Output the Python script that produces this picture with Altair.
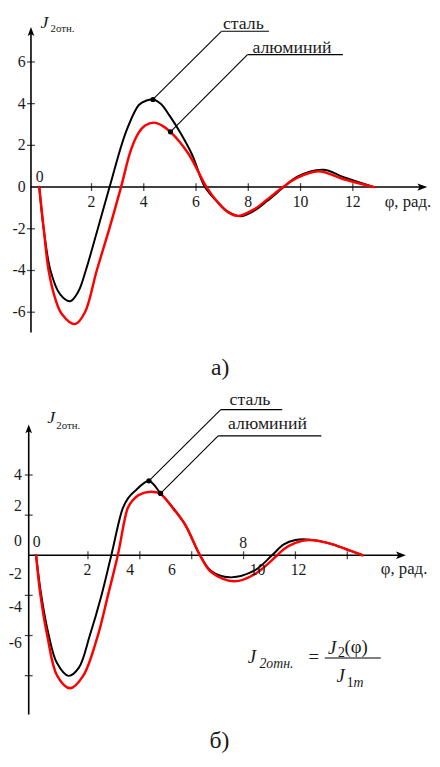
import altair as alt
import pandas as pd

FONT = "'Liberation Serif', 'Times New Roman', 'DejaVu Serif', serif"

# ---------------- panel а) : values ----------------
A_STEEL_PHI = [0, 0.17, 0.43, 0.8, 1.18, 1.5, 1.78, 2.24, 2.69, 3.32, 3.82, 4.1, 4.35, 4.65, 5.0, 5.4, 5.85,
               6.34, 6.84, 7.22, 7.7, 8.23, 8.73, 9.36, 9.86, 10.87, 11.62, 12.82]
A_STEEL_J = [0, -2, -4, -5.15, -5.47, -5.0, -4, -2, 0, 2.65, 3.95, 4.15, 4.2, 4.0, 3.4, 2.6, 1.55,
             0, -0.74, -1.18, -1.4, -1.13, -0.66, 0, 0.49, 0.83, 0.49, 0]
A_ALU_PHI = [0, 0.17, 0.36, 0.6, 0.87, 1.37, 1.75, 2.2, 2.68, 3.13, 3.5, 3.8, 4.05, 4.39, 4.7, 5.02, 5.71,
             6.4, 6.84, 7.22, 7.62, 8.23, 8.73, 9.33, 9.86, 10.68, 11.62, 12.82]
A_ALU_J = [0, -2, -4, -5.3, -6.1, -6.57, -6, -4, -2, 0, 1.75, 2.6, 2.95, 3.09, 2.95, 2.65, 1.6,
           0, -0.74, -1.2, -1.38, -1.06, -0.59, 0, 0.44, 0.76, 0.39, 0]
A_YTICKS = [-6, -4, -2, 2, 4, 6]
A_YLABELS = ["6", "4", "2", "0", "-2", "-4", "-6"]
A_YLABEL_POS = [6, 4, 2, 0, -2, -4, -6]
A_XTICKS = [2, 4, 6, 8, 10, 12]
A_XLABELS = ["2", "4", "6", "8", "10", "12"]
A_XLABEL_POS = [2, 4, 6, 8, 10, 12]
A_DOTS_PHI = [4.35, 5.02]
A_DOTS_J = [4.2, 2.65]

# ---------------- panel б) ----------------
B_STEEL_PHI = [0, 0.2, 0.49, 0.8, 1.25, 1.65, 2.07, 2.52, 2.9, 3.34, 3.55, 3.78, 4.35, 4.8, 5.3, 5.75, 6.32,
               6.74, 7.46, 8.41, 9.1, 9.55, 10.0, 10.55, 11.32, 11.96, 12.59]
B_STEEL_J = [0, -2, -4, -5.36, -6.01, -5.6, -4, -2, 0, 2.34, 2.85, 3.16, 3.7, 3.08, 2.34, 1.52, 0,
             -0.77, -1.1, -0.77, 0, 0.54, 0.76, 0.78, 0.59, 0.3, 0]
B_ALU_PHI = [0, 0.17, 0.43, 0.81, 1.31, 1.82, 2.38, 2.77, 3.15, 3.53, 3.7, 3.95, 4.43, 4.8, 5.3, 5.75, 6.32,
             6.76, 7.65, 8.41, 9.3, 9.55, 10.0, 10.5, 11.32, 11.96, 12.59]
B_ALU_J = [0, -2, -4, -6, -6.63, -6, -4, -2, 0, 2.34, 2.7, 3.0, 3.16, 3.05, 2.3, 1.52, 0,
           -0.85, -1.3, -0.96, 0, 0.3, 0.62, 0.76, 0.59, 0.3, 0]
B_YTICKS = [-6, -4, -2, 2, 4]
B_YLABELS = ["4", "2", "0", "-2", "-4", "-6"]
B_YLABEL_POS = [3.98, 2.44, 0.72, -0.96, -2.57, -4.37]
B_XTICKS = [2, 4, 6, 8, 10, 12]
B_XLABELS_BELOW = ["2", "4", "6", "10", "12"]
B_XLABELS_BELOW_POS = [1.98, 3.63, 5.24, 8.54, 10.12]
B_XLABELS_ABOVE = ["0", "8"]
B_XLABELS_ABOVE_POS = [0.02, 7.99]
B_DOTS_PHI = [4.35, 4.8]
B_DOTS_J = [3.71, 3.08]

ARROW_UP = "M0,-1L0.75,1L0,0.55L-0.75,1Z"
ARROW_RIGHT = "M1,0L-1,-0.75L-0.55,0L-1,0.75Z"


def enc(xs, ys):
    return dict(x=alt.X("x:Q", scale=xs, axis=None), y=alt.Y("y:Q", scale=ys, axis=None))


def curve(phi, j, color, width, xs, ys):
    df = pd.DataFrame({"x": phi, "y": j})
    return alt.Chart(df).mark_line(interpolate="catmull-rom", color=color, strokeWidth=width,
                                   strokeCap="round", strokeJoin="round").encode(**enc(xs, ys))


def rules(rows, xs, ys):
    df = pd.DataFrame(rows, columns=["x", "x2", "y", "y2", "w"])
    return alt.Chart(df).mark_rule(color="black").encode(
        x=alt.X("x:Q", scale=xs, axis=None), x2="x2:Q",
        y=alt.Y("y:Q", scale=ys, axis=None), y2="y2:Q",
        strokeWidth=alt.StrokeWidth("w:Q", scale=None))


def ticks(xv, yv, orient, xs, ys):
    df = pd.DataFrame({"x": xv, "y": yv})
    return alt.Chart(df).mark_tick(orient=orient, color="black", size=8, thickness=1.3).encode(**enc(xs, ys))


def points(xv, yv, shape, size, xs, ys):
    df = pd.DataFrame({"x": xv, "y": yv})
    return alt.Chart(df).mark_point(shape=shape, size=size, filled=True, color="black",
                                    opacity=1, strokeWidth=0).encode(**enc(xs, ys))


def texts(xv, yv, tv, xs, ys, size=16, align="left", baseline="alphabetic", style="normal", color="#1a1a1a"):
    df = pd.DataFrame({"x": xv, "y": yv, "t": tv})
    return alt.Chart(df).mark_text(font=FONT, fontSize=size, align=align, baseline=baseline,
                                   fontStyle=style, color=color).encode(text="t:N", **enc(xs, ys))


# ---------------- build panel а) ----------------
xa = alt.Scale(domain=[-1.1585, 14.8415], nice=False, zero=False)
ya = alt.Scale(domain=[-9.5366, 8.3357], nice=False, zero=False)
A_AX = -0.317
panel_a = alt.layer(
    rules([[A_AX, A_AX, -6.97, 7.46, 1.6], [-0.33, 14.66, 0, 0, 1.6],
           [4.35, 6.97, 4.2, 7.47, 1.1], [6.97, 8.79, 7.47, 7.47, 1.1],
           [5.02, 7.97, 2.65, 6.35, 1.1], [7.97, 11.62, 6.35, 6.35, 1.1]], xa, ya),
    ticks([A_AX] * len(A_YTICKS), A_YTICKS, "horizontal", xa, ya),
    ticks(A_XTICKS, [0] * len(A_XTICKS), "vertical", xa, ya),
    points([A_AX], [7.46], ARROW_UP, 81, xa, ya),
    points([14.66], [0], ARROW_RIGHT, 100, xa, ya),
    curve(A_STEEL_PHI, A_STEEL_J, "black", 2.0, xa, ya),
    curve(A_ALU_PHI, A_ALU_J, "#ff0000", 2.5, xa, ya),
    points(A_DOTS_PHI, A_DOTS_J, "circle", 28, xa, ya),
    texts([-0.52] * 7, A_YLABEL_POS, A_YLABELS, xa, ya, align="right", baseline="middle"),
    texts(A_XLABEL_POS, [-0.72] * 6, A_XLABELS, xa, ya, align="center", baseline="middle"),
    texts([0.02], [0.49], ["0"], xa, ya, align="center", baseline="middle"),
    texts([13.22], [-0.70], ["φ, рад."], xa, ya, size=17, baseline="middle"),
    texts([0.05], [7.63], ["J"], xa, ya, size=18, style="italic"),
    texts([0.43], [7.44], ["2отн."], xa, ya, size=11),
    texts([7.03], [7.56], ["сталь"], xa, ya, size=18),
    texts([8.16], [6.44], ["алюминий"], xa, ya, size=18),
    texts([6.92], [-9.02], ["а)"], xa, ya, size=24, align="center"),
).properties(width=424, height=378)

# ---------------- build panel б) ----------------
xb = alt.Scale(domain=[-1.0456, 15.076], nice=False, zero=False)
yb = alt.Scale(domain=[-9.892, 8.437], nice=False, zero=False)
B_AX = -0.285
panel_b = alt.layer(
    rules([[B_AX, B_AX, -7.93, 6.30, 1.6], [-0.285, 14.07, 0, 0, 1.6],
           [4.35, 7.12, 3.71, 7.26, 1.1], [7.12, 9.49, 7.26, 7.26, 1.1],
           [4.8, 7.02, 3.08, 5.95, 1.1], [7.02, 11.0, 5.95, 5.95, 1.1],
           [11.13, 13.29, -5.12, -5.12, 1.1]], xb, yb),
    ticks([B_AX] * len(B_YTICKS), B_YTICKS, "horizontal", xb, yb),
    ticks(B_XTICKS, [0] * len(B_XTICKS), "vertical", xb, yb),
    points([B_AX], [6.30], ARROW_UP, 81, xb, yb),
    points([14.07], [0], ARROW_RIGHT, 100, xb, yb),
    curve(B_STEEL_PHI, B_STEEL_J, "black", 2.0, xb, yb),
    curve(B_ALU_PHI, B_ALU_J, "#ff0000", 2.5, xb, yb),
    points(B_DOTS_PHI, B_DOTS_J, "circle", 28, xb, yb),
    texts([-0.551] * 6, B_YLABEL_POS, B_YLABELS, xb, yb, align="right", baseline="middle"),
    texts(B_XLABELS_BELOW_POS, [-0.74] * 5, B_XLABELS_BELOW, xb, yb, align="center", baseline="middle"),
    texts(B_XLABELS_ABOVE_POS, [0.66, 0.61], B_XLABELS_ABOVE, xb, yb, align="center", baseline="middle"),
    texts([13.29], [-0.69], ["φ, рад."], xb, yb, size=17, baseline="middle"),
    texts([0.43], [6.57], ["J"], xb, yb, size=18, style="italic"),
    texts([0.78], [6.31], ["2отн."], xb, yb, size=11),
    texts([7.46], [7.50], ["сталь"], xb, yb, size=18),
    texts([7.40], [6.28], ["алюминий"], xb, yb, size=18),
    # formula
    texts([8.16], [-5.37], ["J"], xb, yb, size=19, style="italic"),
    texts([8.61], [-5.60], ["2отн."], xb, yb, size=14, style="italic"),
    texts([10.50], [-5.35], ["="], xb, yb, size=19),
    texts([11.26], [-4.93], ["J"], xb, yb, size=19, style="italic"),
    texts([11.64], [-5.08], ["2"], xb, yb, size=14),
    texts([11.89], [-4.85], ["(φ)"], xb, yb, size=19),
    texts([11.58], [-6.34], ["J"], xb, yb, size=19, style="italic"),
    texts([11.98], [-6.55], ["1"], xb, yb, size=14),
    texts([12.24], [-6.55], ["m"], xb, yb, size=14, style="italic"),
    texts([7.07], [-9.6], ["б)"], xb, yb, size=24, align="center"),
).properties(width=424, height=373)

chart = alt.vconcat(panel_a, panel_b, spacing=0).properties(padding=0).configure_view(strokeWidth=0)
chart.save("out.html", embed_options={"renderer": "svg", "actions": False})
